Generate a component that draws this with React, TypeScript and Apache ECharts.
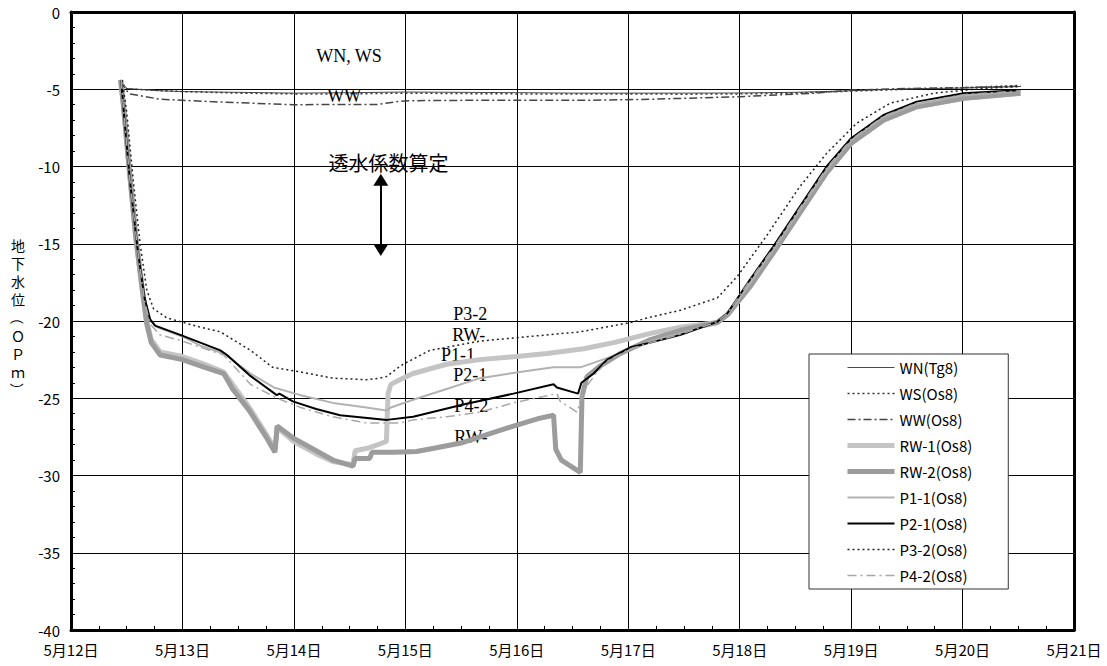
import React, { useEffect, useRef } from 'react';
import * as echarts from 'echarts';

const DAY_LABELS = ['5月12日', '5月13日', '5月14日', '5月15日', '5月16日', '5月17日', '5月18日', '5月19日', '5月20日', '5月21日'];

const SERIES_NAMES = ['WN(Tg8)', 'WS(Os8)', 'WW(Os8)', 'RW-1(Os8)', 'RW-2(Os8)', 'P1-1(Os8)', 'P2-1(Os8)', 'P3-2(Os8)', 'P4-2(Os8)'];

// [days since 5/12 0:00, groundwater level OP m]
const WN = [[0.44, -4.4], [0.5, -4.95], [0.8, -5.1], [1.0, -5.15], [1.5, -5.2], [2.0, -5.25], [2.5, -5.22], [3.0, -5.18], [3.5, -5.2], [4.0, -5.22], [4.5, -5.25], [5.0, -5.25], [5.5, -5.25], [6.0, -5.24], [6.5, -5.2], [7.0, -5.1], [7.3, -5.02], [7.5, -4.98], [8.0, -4.92], [8.52, -4.82]];
const WS = [[0.44, -4.4], [0.5, -4.98], [1.0, -5.15], [1.5, -5.25], [2.0, -5.3], [2.5, -5.3], [3.0, -5.25], [3.5, -5.28], [4.0, -5.3], [4.5, -5.3], [5.0, -5.3], [5.5, -5.32], [6.0, -5.3], [6.5, -5.25], [7.0, -5.12], [7.5, -5.0], [8.0, -4.9], [8.52, -4.75]];
const WW = [[0.44, -4.5], [0.5, -5.1], [0.53, -5.3], [0.8, -5.65], [1.25, -5.8], [1.99, -6.0], [2.75, -5.98], [2.93, -5.8], [3.04, -5.74], [3.5, -5.72], [4.0, -5.72], [4.6, -5.72], [5.2, -5.65], [6.0, -5.48], [6.66, -5.26], [7.02, -5.05], [7.5, -4.95], [8.0, -4.9], [8.52, -4.8]];
const RW1 = [[0.445, -4.4], [0.47, -6], [0.52, -10], [0.58, -14.5], [0.64, -18], [0.68, -20], [0.72, -21.2], [0.8, -22.0], [1.0, -22.3], [1.2, -22.8], [1.37, -23.3], [1.45, -24.1], [1.6, -25.6], [1.75, -27.3], [1.83, -28.3], [1.85, -26.9], [2.0, -27.8], [2.2, -28.6], [2.35, -29.1], [2.53, -29.3], [2.55, -28.4], [2.68, -28.2], [2.83, -27.8], [2.845, -24.7], [2.87, -24.1], [2.95, -23.8], [3.07, -23.4], [3.37, -22.8], [3.67, -22.5], [4.0, -22.3], [4.27, -22.1], [4.6, -21.8], [4.87, -21.4], [5.2, -20.8], [5.47, -20.4], [5.8, -20.1], [5.89, -19.6], [6.09, -17.8], [6.3, -15.6], [6.54, -13.0], [6.78, -10.4], [7.0, -8.5], [7.29, -7.0], [7.59, -6.13], [8.01, -5.58], [8.52, -5.26]];
const RW2 = [[0.445, -4.4], [0.47, -6], [0.52, -10], [0.58, -14.5], [0.64, -18], [0.68, -20.2], [0.72, -21.4], [0.8, -22.2], [1.0, -22.5], [1.2, -23.0], [1.37, -23.4], [1.45, -24.4], [1.6, -25.8], [1.75, -27.5], [1.83, -28.5], [1.85, -26.8], [2.0, -27.6], [2.2, -28.4], [2.35, -29.0], [2.53, -29.4], [2.55, -28.9], [2.68, -28.9], [2.7, -28.5], [2.9, -28.5], [3.1, -28.45], [3.28, -28.2], [3.5, -27.9], [3.67, -27.5], [3.97, -26.8], [4.2, -26.3], [4.33, -26.1], [4.35, -28.3], [4.4, -29.0], [4.57, -29.8], [4.585, -24.9], [4.63, -23.6], [4.75, -22.9], [4.93, -22.1], [5.2, -21.2], [5.47, -20.6], [5.8, -20.1], [5.89, -19.6], [6.09, -17.8], [6.3, -15.6], [6.54, -13.0], [6.78, -10.4], [7.0, -8.5], [7.29, -7.0], [7.59, -6.13], [8.01, -5.58], [8.52, -5.26]];
const P11 = [[0.45, -4.4], [0.48, -7], [0.53, -11], [0.6, -15.5], [0.66, -18.5], [0.71, -19.9], [0.77, -20.4], [1.0, -21.0], [1.16, -21.6], [1.37, -22.1], [1.61, -23.4], [1.82, -24.3], [2.06, -24.8], [2.35, -25.3], [2.65, -25.6], [2.83, -25.8], [2.87, -25.6], [3.07, -25.1], [3.37, -24.4], [3.67, -23.7], [4.12, -23.2], [4.33, -23.0], [4.57, -23.0], [4.81, -22.4], [5.02, -21.8], [5.2, -21.3], [5.47, -20.8], [5.8, -20.1], [5.89, -19.6], [6.09, -17.6], [6.3, -15.4], [6.54, -12.8], [6.78, -10.2], [7.0, -8.3], [7.29, -6.8], [7.59, -5.95], [8.01, -5.4], [8.52, -5.1]];
const P21 = [[0.45, -4.4], [0.48, -7], [0.53, -11], [0.6, -15.5], [0.66, -18.5], [0.71, -19.9], [0.754, -20.3], [0.98, -20.9], [1.34, -21.9], [1.4, -22.2], [1.6, -23.5], [1.846, -24.8], [1.87, -24.7], [1.99, -25.2], [2.2, -25.7], [2.415, -26.1], [2.834, -26.4], [3.07, -26.2], [3.52, -25.4], [3.97, -24.7], [4.33, -24.1], [4.36, -24.3], [4.55, -24.7], [4.58, -24.0], [4.69, -23.4], [4.81, -22.5], [5.02, -21.7], [5.2, -21.4], [5.47, -20.9], [5.8, -20.05], [5.89, -19.5], [6.09, -17.35], [6.3, -15.2], [6.54, -12.6], [6.78, -10.0], [7.0, -8.17], [7.29, -6.67], [7.59, -5.8], [8.01, -5.26], [8.52, -5.05]];
const P32 = [[0.46, -4.4], [0.5, -6.5], [0.56, -11], [0.62, -15], [0.68, -18.0], [0.74, -19.2], [0.86, -19.8], [1.16, -20.4], [1.34, -20.7], [1.61, -21.9], [1.81, -23.0], [2.06, -23.3], [2.35, -23.7], [2.65, -23.8], [2.77, -23.7], [2.83, -23.6], [2.94, -23.0], [2.98, -22.8], [3.22, -21.9], [3.67, -21.3], [4.12, -21.0], [4.57, -20.7], [5.02, -20.1], [5.2, -19.75], [5.47, -19.3], [5.8, -18.5], [5.98, -17.1], [6.24, -14.5], [6.54, -11.3], [6.78, -9.15], [7.05, -7.2], [7.35, -5.9], [7.74, -5.26], [8.19, -4.94], [8.52, -4.83]];
const P42 = [[0.45, -4.4], [0.48, -7], [0.53, -11], [0.6, -15.5], [0.66, -18.7], [0.71, -20.2], [0.8, -20.9], [1.0, -21.3], [1.16, -21.7], [1.37, -22.2], [1.61, -24.1], [1.85, -25.0], [2.06, -25.6], [2.35, -26.2], [2.65, -26.6], [2.95, -26.6], [3.07, -26.4], [3.37, -26.2], [3.67, -25.9], [3.97, -25.3], [4.36, -24.7], [4.39, -25.2], [4.54, -25.9], [4.6, -24.5], [4.7, -23.5], [4.81, -22.6], [5.02, -21.8], [5.2, -21.4], [5.47, -20.85], [5.8, -20.05], [5.89, -19.5], [6.09, -17.4], [6.3, -15.3], [6.54, -12.7], [6.78, -10.1], [7.0, -8.25], [7.29, -6.75], [7.59, -5.9], [8.01, -5.35], [8.52, -5.1]];

const SERIES_DATA = [WN, WS, WW, RW1, RW2, P11, P21, P32, P42];

// annotation texts: left edge x (days), vertical middle y (OP m)
const ANNOT_TEXTS = ['WN, WS', 'WW', 'P3-2', 'RW-', 'P1-1', 'P2-1', 'P4-2', 'RW-'];
const ANNOT_X = [2.2, 2.3, 3.43, 3.42, 3.32, 3.43, 3.44, 3.44];
const ANNOT_Y = [-2.85, -5.44, -19.55, -20.9, -22.2, -23.5, -25.5, -27.51];
const NOTE_TEXT = '透水係数算定';
const NOTE_POS = [2.31, -9.71];
const ARROW_X = 2.78;
const ARROW_Y = [-10.85, -15.4];

const Y_TITLE = ['地', '下', '水', '位', '（', 'Ｏ', 'Ｐ', 'ｍ', '）'];

const SANS = '"Noto Sans CJK JP", "Noto Sans", sans-serif';
const SERIF = '"Liberation Serif", "DejaVu Serif", serif';

const STYLES = [
  { color: '#4a4a4a', width: 1, type: 'solid' },
  { color: '#333333', width: 1.5, type: [2, 3] },
  { color: '#444444', width: 1.5, type: [8, 3, 2, 3] },
  { color: '#c4c4c4', width: 5, type: 'solid' },
  { color: '#9c9c9c', width: 5, type: 'solid' },
  { color: '#b2b2b2', width: 2, type: 'solid' },
  { color: '#000000', width: 2, type: 'solid' },
  { color: '#222222', width: 1.5, type: [2, 3] },
  { color: '#a8a8a8', width: 1.5, type: [9, 4, 2, 4] },
];

const GRID = { left: 71, right: 33, top: 12, bottom: 36 };
const W = 1107;
const H = 666;

export default function App() {
  const ref = useRef<HTMLDivElement>(null);
  useEffect(() => {
    const chart = echarts.init(ref.current as HTMLDivElement, null, { renderer: 'svg' });
    const series: any[] = SERIES_NAMES.map((name, i) => ({
      name,
      type: 'line',
      data: SERIES_DATA[i],
      symbol: 'none',
      showSymbol: false,
      lineStyle: { color: STYLES[i].color, width: STYLES[i].width, type: STYLES[i].type },
      itemStyle: { color: STYLES[i].color },
      z: 3 + i,
    }));
    series[0].markPoint = {
      symbol: 'circle',
      symbolSize: 0,
      silent: true,
      label: {
        show: true,
        position: 'right',
        distance: 0,
        color: '#000',
        fontFamily: SERIF,
        fontSize: 18,
        lineHeight: 15,
        formatter: (p: any) => p.name,
      },
      data: [
        ...ANNOT_TEXTS.map((t, i) => ({ name: t, coord: [ANNOT_X[i], ANNOT_Y[i]] })),
        { name: NOTE_TEXT, coord: NOTE_POS, label: { fontFamily: SANS, fontSize: 20, lineHeight: 20 } },
      ],
    };
    series[0].markLine = {
      silent: true,
      symbol: ['triangle', 'triangle'],
      symbolSize: [15, 12],
      label: { show: false },
      lineStyle: { color: '#000', width: 2, type: 'solid' },
      data: [[{ coord: [ARROW_X, ARROW_Y[0]] }, { coord: [ARROW_X, ARROW_Y[1]] }]],
    };

    const titleGraphics: any[] = Y_TITLE.map((ch, i) => ({
      type: 'text',
      x: 18,
      y: 245 + i * 18.1,
      rotation: ch === '（' || ch === '）' ? -Math.PI / 2 : 0,
      style: {
        text: ch,
        fontFamily: SANS,
        fontSize: 14,
        fill: '#000',
        align: 'center',
        verticalAlign: 'middle',
      },
    }));

    chart.setOption({
      animation: false,
      backgroundColor: '#fff',
      grid: { left: GRID.left, right: GRID.right, top: GRID.top, bottom: GRID.bottom },
      legend: {
        data: SERIES_NAMES,
        orient: 'vertical',
        left: 809,
        top: 354,
        itemWidth: 47,
        itemHeight: 14,
        itemGap: 11,
        padding: [6, 36, 6, 36],
        backgroundColor: '#fff',
        borderColor: '#333',
        borderWidth: 1,
        selectedMode: false,
        itemStyle: { opacity: 0 },
        lineStyle: { width: 'inherit' },
        textStyle: { fontFamily: SANS, fontSize: 15, color: '#000', lineHeight: 15 },
      },
      xAxis: [
        {
          type: 'value',
          min: 0,
          max: 9,
          interval: 1,
          axisLine: { show: true, onZero: false, lineStyle: { color: '#000', width: 3 } },
          axisTick: { show: true, inside: true, length: 5, lineStyle: { color: '#000' } },
          minorTick: { show: true, splitNumber: 4, length: 4, lineStyle: { color: '#000' } },
          splitLine: { show: true, lineStyle: { color: '#000', width: 1 } },
          axisLabel: {
            formatter: (v: number) => DAY_LABELS[Math.round(v)],
            fontFamily: SANS,
            fontSize: 15,
            color: '#000',
            margin: 12,
          },
        },
        {
          type: 'value',
          position: 'top',
          min: 0,
          max: 9,
          interval: 1,
          axisLine: { show: true, onZero: false, lineStyle: { color: '#000', width: 3 } },
          axisTick: { show: false },
          axisLabel: { show: false },
          splitLine: { show: false },
        },
      ],
      yAxis: [
        {
          type: 'value',
          min: -40,
          max: 0,
          interval: 5,
          axisLine: { show: true, onZero: false, lineStyle: { color: '#000', width: 3 } },
          axisTick: { show: true, inside: true, length: 5, lineStyle: { color: '#000' } },
          minorTick: { show: true, splitNumber: 5, length: 4, lineStyle: { color: '#000' } },
          splitLine: { show: true, lineStyle: { color: '#000', width: 1 } },
          axisLabel: { fontFamily: SANS, fontSize: 15, color: '#000', margin: 11 },
        },
        {
          type: 'value',
          position: 'right',
          min: -40,
          max: 0,
          interval: 5,
          axisLine: { show: true, onZero: false, lineStyle: { color: '#000', width: 3 } },
          axisTick: { show: false },
          axisLabel: { show: false },
          splitLine: { show: false },
        },
      ],
      graphic: titleGraphics,
      series,
    });
    return () => chart.dispose();
  }, []);
  return (
    <div
      ref={ref}
      style={{ position: 'fixed', left: 0, top: 0, width: W, height: H, background: '#fff' }}
    />
  );
}
